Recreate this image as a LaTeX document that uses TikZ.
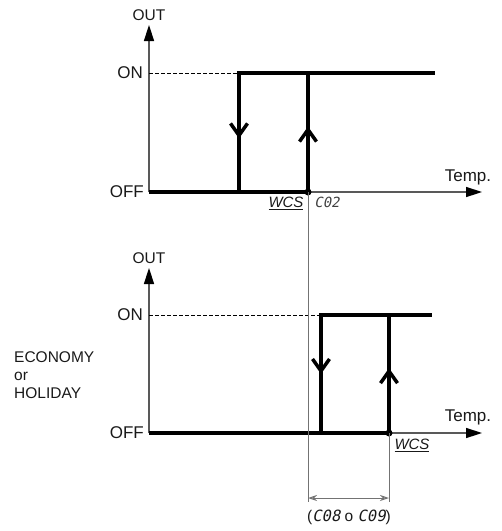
\documentclass[tikz,border=0pt]{standalone}
\usepackage{fontspec}
\setmainfont{Liberation Sans}
\newfontfamily\segfont[FakeSlant=0.2]{DejaVu Sans Mono}
\usetikzlibrary{arrows.meta, positioning, calc}

\begin{document}
\begin{tikzpicture}[
        x=1pt, y=-1pt,
        axis/.style={draw=black!65, line width=1.5pt, -{Triangle[length=16pt, width=10pt, color=black]}},
        signal/.style={line width=3.5pt},
        flow/.style={line width=3.5pt, -{Straight Barb[length=12pt, width=17pt]}},
        level/.style={line width=0.8pt, dash pattern=on 4pt off 2pt},
        guide/.style={draw=black!55, line width=1pt},
        span/.style={draw=black!55, line width=1pt, {Stealth[open, length=9pt, width=6pt]}-{Stealth[open, length=9pt, width=6pt]}},
        lbl/.style={font=\fontsize{17}{17}\selectfont, text=black!90, inner sep=0pt},
        small/.style={font=\fontsize{15.5}{17}\selectfont, text=black!90, inner sep=0pt},
        seg/.style={font=\segfont\fontsize{14}{14}\selectfont, text=black!75, inner sep=0pt}
    ]
        \useasboundingbox (0,0) rectangle (502,531);

        % Normal mode
        \coordinate (o1) at (149,192);
        \coordinate (y1) at (149,25);
        \coordinate (x1) at (482,192);
        \coordinate (on1) at (149,73);
        \coordinate (a1) at (239,73);
        \coordinate (b1) at (239,192);
        \coordinate (c1) at (308,192);
        \coordinate (d1) at (308,73);
        \coordinate (e1) at (435,73);

        \draw[axis] (o1) -- (y1);
        \draw[axis] (o1) -- (x1);
        \draw[level] (on1) -- (a1);
        \draw[signal] (o1) -- (c1) -- (d1);
        \draw[signal] (b1) -- (a1) -- (e1);
        \draw[flow] (a1) -- ($(a1)!0.55!(b1)$);
        \draw[flow] (c1) -- ($(c1)!0.55!(d1)$);
        \fill (c1) circle (3.5pt);

        \node[small, above=4pt of y1] (out1) {OUT};
        \node[lbl, left=6pt of on1] (on1l) {ON};
        \node[lbl, left=5pt of o1] (off1l) {OFF};
        \node[lbl] (t1) at (468,177) {Temp.};
        \node[small, font=\fontsize{15}{15}\selectfont\itshape] (w1) at (286,203) {\underline{WCS}};
        \node[seg] (p1) at (327,202) {C02};

        % Economy / holiday mode
        \coordinate (o2) at (149,433);
        \coordinate (y2) at (149,268);
        \coordinate (x2) at (482,433);
        \coordinate (on2) at (149,315);
        \coordinate (a2) at (321,315);
        \coordinate (b2) at (321,433);
        \coordinate (c2) at (389,433);
        \coordinate (d2) at (389,315);
        \coordinate (e2) at (432,315);

        \draw[axis] (o2) -- (y2);
        \draw[axis] (o2) -- (x2);
        \draw[level] (on2) -- (a2);
        \draw[signal] (o2) -- (c2) -- (d2);
        \draw[signal] (b2) -- (a2) -- (e2);
        \draw[flow] (a2) -- ($(a2)!0.5!(b2)$);
        \draw[flow] (c2) -- ($(c2)!0.55!(d2)$);
        \fill (c2) circle (3.5pt);

        \node[small, above=4pt of y2] (out2) {OUT};
        \node[lbl, left=6pt of on2] (on2l) {ON};
        \node[lbl, left=5pt of o2] (off2l) {OFF};
        \node[lbl] (t2) at (468,417) {Temp.};
        \node[small, font=\fontsize{15}{15}\selectfont\itshape] (w2) at (412,445) {\underline{WCS}};
        \node[small, align=left, anchor=west, font=\fontsize{15.5}{18}\selectfont] (mode) at (14,375) {ECONOMY\\or\\HOLIDAY};

        % Offset
        \coordinate (g1) at (308,502);
        \coordinate (g2) at (389,502);
        \coordinate (s1) at (308,498);
        \coordinate (s2) at (389,498);
        \draw[guide] (c1) -- (g1);
        \draw[guide] (c2) -- (g2);
        \draw[span] (s1) -- (s2);
        \node[lbl, font=\fontsize{15.5}{15.5}\selectfont] (shift) at (349,517) {({\segfont C08} o {\segfont C09})};
    \end{tikzpicture}
\end{document}
